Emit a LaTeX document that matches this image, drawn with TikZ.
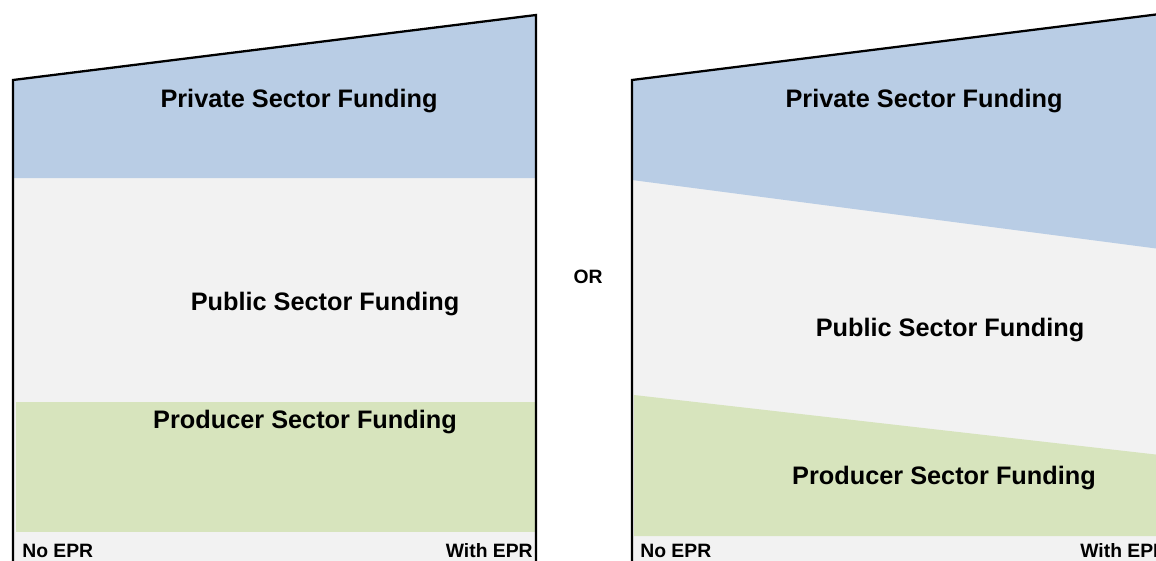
\documentclass[tikz,border=0pt]{standalone}
\usepackage{fontspec}
\setmainfont{Liberation Sans}
\definecolor{privblue}{HTML}{B9CDE5}
\definecolor{pubgray}{HTML}{F2F2F2}
\definecolor{prodgreen}{HTML}{D7E4BD}

\begin{document}
\begin{tikzpicture}[x=0.02cm,y=-0.02cm,
    sector style/.style={font=\bfseries\fontsize{14.4}{17}\selectfont,anchor=base,inner sep=0pt},
    epr style/.style={font=\bfseries\fontsize{11}{13}\selectfont,inner sep=0pt},
    frame style/.style={line width=1.3pt}]
        \useasboundingbox (0,0) rectangle (1156,561);
        \clip (0,0) rectangle (1156,561);
        % no change in shares
        \fill[pubgray] (13,178) rectangle (536,561);
        \fill[privblue] (13,80) -- (536,15) -- (536,178) -- (13,178) -- cycle;
        \fill[prodgreen] (16,402) rectangle (536,532);
        \draw[frame style] (13,561) -- (13,80) -- (536,15) -- (536,561);
        \node[sector style] (privA) at (299,107) {Private Sector Funding};
        \node[sector style] (pubA) at (325,310) {Public Sector Funding};
        \node[sector style] (prodA) at (305,428) {Producer Sector Funding};
        \node[epr style,anchor=base west] (noA) at (22,557.5) {No EPR};
        \node[epr style,anchor=base east] (withA) at (533,557.5) {With EPR};
        \node[epr style,anchor=base] (or) at (588,283) {OR};
        % shifted shares
        \fill[pubgray] (632,180) rectangle (1160,561);
        \fill[privblue] (632,80) -- (1160,14) -- (1160,249) -- (632,180) -- cycle;
        \fill[prodgreen] (634,395) -- (1160,455) -- (1160,536) -- (634,536) -- cycle;
        \draw[frame style] (632,561) -- (632,80) -- (1160,14);
        \node[sector style] (privB) at (924,107) {Private Sector Funding};
        \node[sector style] (pubB) at (950,336) {Public Sector Funding};
        \node[sector style] (prodB) at (944,484) {Producer Sector Funding};
        \node[epr style,anchor=base west] (noB) at (640,557.5) {No EPR};
        \node[epr style,anchor=base west] (withB) at (1080,557.5) {With EPR};
\end{tikzpicture}
\end{document}
